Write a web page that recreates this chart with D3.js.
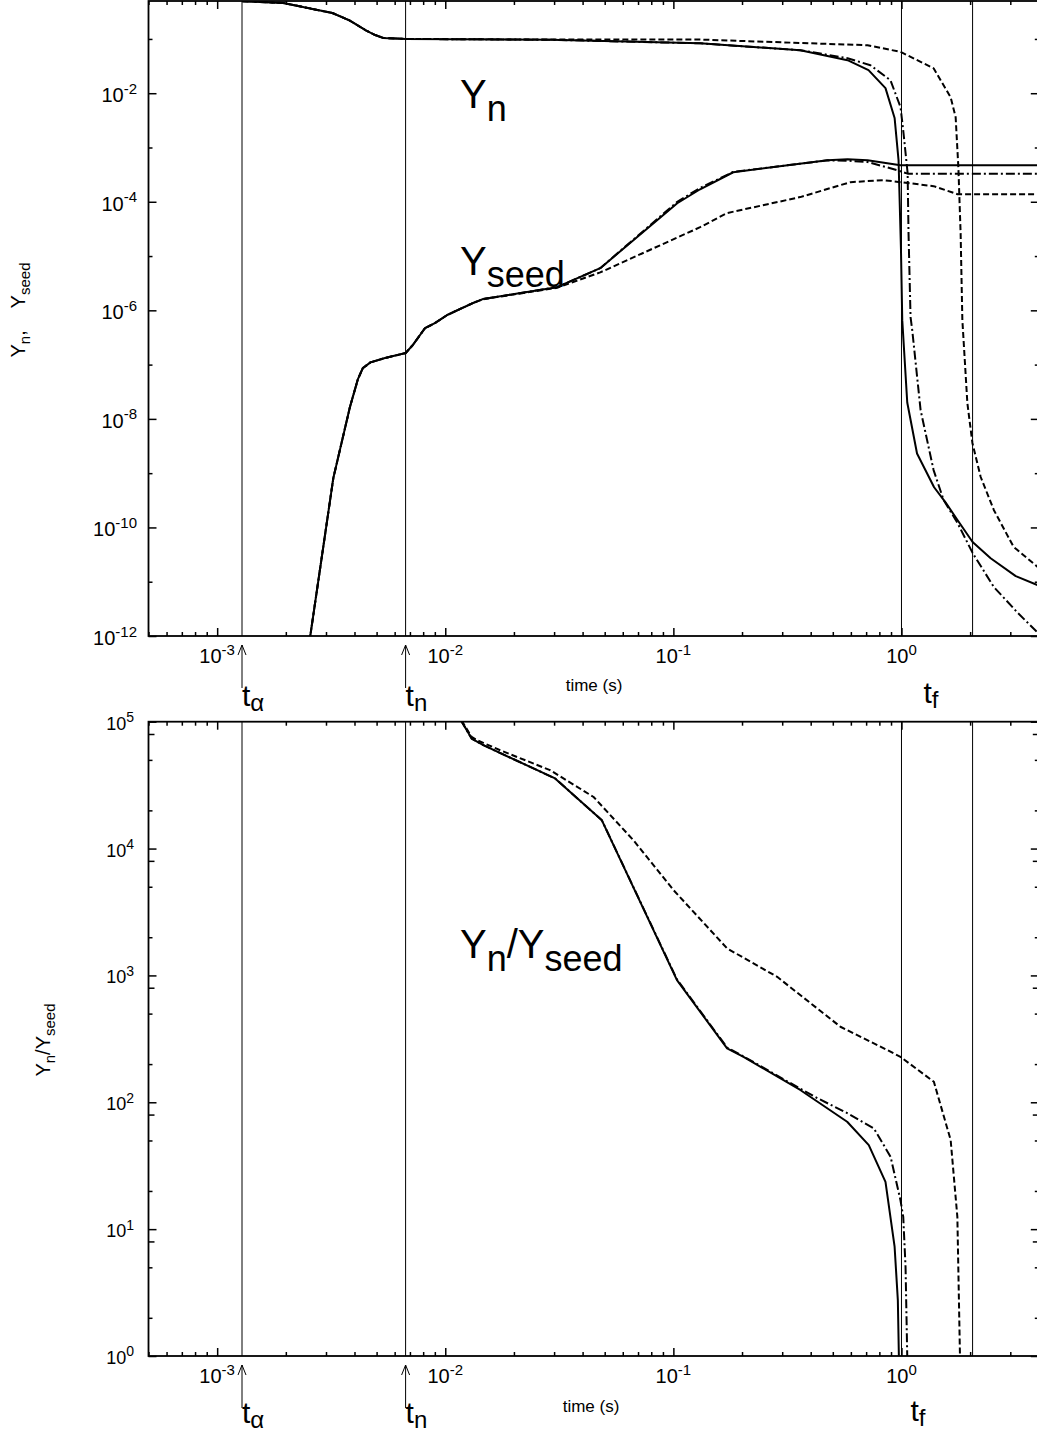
<!DOCTYPE html>
<html>
<head>
<meta charset="utf-8">
<script src="https://cdn.jsdelivr.net/npm/d3@7/dist/d3.min.js"></script>
<style>
body { margin: 0; background: #fff; }
svg { display: block; font-family: "Liberation Sans", Arial, sans-serif; }
</style>
</head>
<body>
<svg width="1037" height="1437"></svg>
<script>
// values: [time (s), value]

// top panel, Y_n
let ynSolid = [
    [1.29e-3, 0.495], [1.95e-3, 0.46], [3.2e-3, 0.30], [3.8e-3, 0.22], [4.46e-3, 0.146],
    [4.93e-3, 0.118], [5.35e-3, 0.104], [6.7e-3, 0.100], [0.0288, 0.0966], [0.131, 0.083],
    [0.36, 0.062], [0.58, 0.0406], [0.717, 0.0266], [0.851, 0.0124], [0.933, 0.0035],
    [0.971, 5.8e-4], [0.995, 1.3e-5], [1.008, 6.6e-7], [1.06, 2.0e-8], [1.17, 2.3e-9],
    [1.39, 5.5e-10], [1.56, 2.9e-10], [1.76, 1.37e-10], [2.05, 5.4e-11], [2.46, 2.7e-11],
    [3.17, 1.27e-11], [4.0, 8.5e-12]
];
let ynDashDot = [
    [1.29e-3, 0.495], [1.95e-3, 0.46], [3.2e-3, 0.30], [3.8e-3, 0.22], [4.46e-3, 0.146],
    [4.93e-3, 0.118], [5.35e-3, 0.104], [6.7e-3, 0.100], [0.0288, 0.0966], [0.131, 0.083],
    [0.36, 0.062], [0.58, 0.0442], [0.731, 0.0328], [0.895, 0.0173], [0.991, 0.0055],
    [1.021, 0.00183], [1.064, 3.4e-4], [1.074, 2.6e-5], [1.096, 7.5e-7], [1.115, 4.3e-7],
    [1.213, 1.45e-8], [1.383, 1.14e-9], [1.53, 3.2e-10], [1.762, 1.2e-10], [2.05, 3.4e-11],
    [2.54, 8.0e-12], [3.24, 2.65e-12], [4.0, 1.1e-12]
];
let ynDashed = [
    [1.29e-3, 0.495], [1.95e-3, 0.46], [3.2e-3, 0.30], [3.8e-3, 0.22], [4.46e-3, 0.146],
    [4.93e-3, 0.118], [5.35e-3, 0.104], [6.7e-3, 0.100], [0.0288, 0.0972], [0.131, 0.0975],
    [0.36, 0.0843], [0.71, 0.0766], [0.99, 0.0577], [1.383, 0.0288], [1.643, 0.0084],
    [1.728, 0.0036], [1.776, 4.3e-4], [1.817, 2.6e-5], [1.849, 6.6e-7], [1.945, 1.95e-8],
    [2.046, 3.6e-9], [2.225, 8.5e-10], [2.54, 2.1e-10], [3.10, 4.4e-11], [4.0, 1.8e-11]
];

// top panel, Y_seed
let yseedSolid = [
    [2.47e-3, 3.6e-13], [3.23e-3, 8.1e-10], [3.82e-3, 1.65e-8], [4.14e-3, 5.4e-8],
    [4.35e-3, 8.6e-8], [4.7e-3, 1.1e-7], [5.44e-3, 1.32e-7], [6.7e-3, 1.63e-7], [7.21e-3, 2.3e-7],
    [8.15e-3, 4.7e-7], [9.0e-3, 5.8e-7], [0.0102, 8.2e-7], [0.0132, 1.36e-6],
    [0.0146, 1.61e-6], [0.0309, 2.67e-6], [0.0478, 5.98e-6], [0.104, 9.4e-5],
    [0.131, 1.7e-4], [0.183, 3.5e-4], [0.474, 5.8e-4], [0.58, 6.1e-4], [0.71, 5.8e-4],
    [0.99, 4.7e-4], [4.0, 4.7e-4]
];
let yseedDashDot = [
    [2.47e-3, 3.6e-13], [3.23e-3, 8.1e-10], [3.82e-3, 1.65e-8], [4.14e-3, 5.4e-8],
    [4.35e-3, 8.6e-8], [4.7e-3, 1.1e-7], [5.44e-3, 1.32e-7], [6.7e-3, 1.63e-7], [7.21e-3, 2.3e-7],
    [8.15e-3, 4.7e-7], [9.0e-3, 5.8e-7], [0.0102, 8.2e-7], [0.0132, 1.36e-6],
    [0.0146, 1.61e-6], [0.0309, 2.67e-6], [0.0478, 5.98e-6], [0.104, 1.0e-4],
    [0.131, 1.8e-4], [0.183, 3.55e-4], [0.474, 5.8e-4], [0.58, 5.7e-4], [0.71, 5.4e-4],
    [0.962, 3.8e-4], [1.064, 3.3e-4], [4.0, 3.3e-4]
];
let yseedDashed = [
    [2.47e-3, 3.6e-13], [3.23e-3, 8.1e-10], [3.82e-3, 1.65e-8], [4.14e-3, 5.4e-8],
    [4.35e-3, 8.6e-8], [4.7e-3, 1.1e-7], [5.44e-3, 1.32e-7], [6.7e-3, 1.63e-7], [7.21e-3, 2.3e-7],
    [8.15e-3, 4.7e-7], [9.0e-3, 5.8e-7], [0.0102, 8.2e-7], [0.0132, 1.36e-6],
    [0.0146, 1.6e-6], [0.0309, 2.6e-6], [0.0478, 5.0e-6], [0.131, 3.4e-5],
    [0.172, 6.2e-5], [0.36, 1.22e-4], [0.598, 2.3e-4], [0.835, 2.5e-4], [0.99, 2.3e-4],
    [1.383, 1.94e-4], [1.762, 1.38e-4], [4.0, 1.38e-4]
];

// bottom panel, Y_n / Y_seed
let ratioSolid = [
    [0.0107, 1.35e5], [0.01305, 7.37e4], [0.01469, 6.53e4], [0.0303, 3.57e4],
    [0.0486, 1.67e4], [0.1037, 918], [0.172, 266], [0.203, 228], [0.36, 125],
    [0.578, 70.2], [0.719, 46], [0.851, 23.6], [0.933, 7.27], [0.964, 2.76],
    [0.974, 1.02], [0.978, 0.5]
];
let ratioDashDot = [
    [0.0107, 1.35e5], [0.01305, 7.37e4], [0.01469, 6.53e4], [0.0303, 3.57e4],
    [0.0486, 1.67e4], [0.1037, 930], [0.172, 270], [0.203, 230], [0.36, 128], [0.427, 108],
    [0.578, 82.2], [0.757, 62.3], [0.896, 37.2], [0.99, 16.9], [1.018, 12.5],
    [1.042, 5.05], [1.06, 1.0], [1.064, 0.5]
];
let ratioDashed = [
    [0.0107, 1.35e5], [0.01305, 7.6e4], [0.01379, 7.15e4], [0.0174, 5.96e4],
    [0.0288, 4.15e4], [0.0447, 2.55e4], [0.0669, 1.16e4], [0.1002, 4700],
    [0.172, 1633], [0.285, 975], [0.54, 394], [0.866, 258], [0.99, 228],
    [1.387, 145], [1.643, 50.4], [1.758, 12.5], [1.805, 1.0], [1.81, 0.5]
];

// marked times: t_alpha, t_n, t_f and the end line
let refTimes = [1.285e-3, 6.7e-3, 1.0, 2.05];

// ticks
let xMajor = [1e-3, 1e-2, 1e-1, 1];
let xMajorExp = ["-3", "-2", "-1", "0"];
let topMajor = [1e-12, 1e-10, 1e-8, 1e-6, 1e-4, 1e-2];
let topMajorExp = ["-12", "-10", "-8", "-6", "-4", "-2"];
let topMinor = [1e-11, 1e-9, 1e-7, 1e-5, 1e-3, 1e-1];
let botMajor = [1, 10, 100, 1e3, 1e4, 1e5];
let botMajorExp = ["0", "1", "2", "3", "4", "5"];

let xMinor = [];
[1e-4, 1e-3, 1e-2, 1e-1, 1].forEach(d => {
    for (let k = 2; k <= 9; k++) if (d * k >= 5e-4 && d * k <= 4) xMinor.push(d * k);
});
let botMinor = [], botMid = [];
[1, 10, 100, 1e3, 1e4].forEach(d => {
    botMinor.push(2 * d, 5 * d);
    botMid.push(8 * d);
});

let svg = d3.select("svg");
let left = 148.5, right = 1038.8;

let x = d3.scaleLog().domain([5e-4, 4]).range([left, right]);

let panels = [
    {
        id: "top",
        y: d3.scaleLog().domain([1e-12, 0.5]).range([636, 1]),
        top: 1, bottom: 636,
        major: topMajor, majorExp: topMajorExp, minor: topMinor, mid: [],
        labelFont: 20, supFont: 15, labelRight: 137, labelDy: 9,
        series: [
            [ynSolid, "solid"], [ynDashDot, "dashdot"], [ynDashed, "dashed"],
            [yseedSolid, "solid"], [yseedDashDot, "dashdot"], [yseedDashed, "dashed"]
        ]
    },
    {
        id: "bot",
        y: d3.scaleLog().domain([1, 1e5]).range([1356, 721.7]),
        top: 721.7, bottom: 1356,
        major: botMajor, majorExp: botMajorExp, minor: botMinor, mid: botMid,
        labelFont: 18, supFont: 14, labelRight: 134, labelDy: 8,
        series: [
            [ratioSolid, "solid"], [ratioDashDot, "dashdot"], [ratioDashed, "dashed"]
        ]
    }
];

let dashes = { solid: null, dashed: "6,3", dashdot: "9,3,2,3" };

function tickAxis(g, axis, values, size) {
    g.call(axis.tickValues(values).tickSizeInner(size).tickSizeOuter(0).tickFormat(""))
        .call(s => s.select(".domain").remove())
        .call(s => s.selectAll("line").attr("stroke", "#000").attr("stroke-width", 1.5));
}

function powLabel(g, px, py, exp, anchor, size, supSize) {
    let t = g.append("text")
        .attr("x", px).attr("y", py)
        .attr("text-anchor", anchor)
        .attr("font-size", size);
    t.append("tspan").text("10");
    t.append("tspan").attr("dy", -size * 0.42).attr("font-size", supSize).text(exp);
}

panels.forEach(p => {
    let y = p.y;
    let g = svg.append("g");

    svg.append("clipPath").attr("id", "clip-" + p.id)
        .append("rect")
        .attr("x", left).attr("y", p.top)
        .attr("width", right - left).attr("height", p.bottom - p.top);

    // vertical reference lines
    g.selectAll(".ref")
        .data(refTimes)
        .enter().append("line")
        .attr("x1", d => x(d)).attr("x2", d => x(d))
        .attr("y1", p.top).attr("y2", p.bottom)
        .attr("stroke", "#000").attr("stroke-width", 1);

    // curves
    let line = d3.line().x(d => x(d[0])).y(d => y(d[1]));
    g.append("g").attr("clip-path", "url(#clip-" + p.id + ")")
        .selectAll("path")
        .data(p.series)
        .enter().append("path")
        .attr("d", d => line(d[0]))
        .attr("fill", "none")
        .attr("stroke", "#000")
        .attr("stroke-width", 2)
        .attr("stroke-linejoin", "round")
        .attr("stroke-dasharray", d => dashes[d[1]]);

    // frame
    g.append("rect")
        .attr("x", left).attr("y", p.top)
        .attr("width", right - left).attr("height", p.bottom - p.top)
        .attr("fill", "none").attr("stroke", "#000").attr("stroke-width", 1.8);

    // ticks, all pointing inwards
    let gb = g.append("g").attr("transform", "translate(0," + p.bottom + ")");
    tickAxis(gb.append("g"), d3.axisBottom(x), xMinor, -4);
    tickAxis(gb.append("g"), d3.axisBottom(x), xMajor, -8);
    let gt = g.append("g").attr("transform", "translate(0," + p.top + ")");
    tickAxis(gt.append("g"), d3.axisTop(x), xMinor, -4);
    tickAxis(gt.append("g"), d3.axisTop(x), xMajor, -8);
    let gl = g.append("g").attr("transform", "translate(" + left + ",0)");
    tickAxis(gl.append("g"), d3.axisLeft(y), p.minor, -4);
    tickAxis(gl.append("g"), d3.axisLeft(y), p.mid, -6);
    tickAxis(gl.append("g"), d3.axisLeft(y), p.major, -8);
    let gr = g.append("g").attr("transform", "translate(" + right + ",0)");
    tickAxis(gr.append("g"), d3.axisRight(y), p.minor, -4);
    tickAxis(gr.append("g"), d3.axisRight(y), p.mid, -6);
    tickAxis(gr.append("g"), d3.axisRight(y), p.major, -8);

    // tick labels
    xMajor.forEach((v, i) => powLabel(g, x(v), p.bottom + 27, xMajorExp[i], "middle", 20, 15));
    p.major.forEach((v, i) => powLabel(g, p.labelRight, y(v) + p.labelDy, p.majorExp[i], "end", p.labelFont, p.supFont));

    // time arrows for t_alpha and t_n
    refTimes.slice(0, 2).forEach(t => {
        let ax = x(t), tip = p.bottom + 9;
        g.append("path")
            .attr("d", "M" + ax + "," + tip + "V" + (tip + 43) +
                "M" + (ax - 4) + "," + (tip + 10) + "L" + ax + "," + tip + "L" + (ax + 4) + "," + (tip + 10))
            .attr("fill", "none").attr("stroke", "#000").attr("stroke-width", 1);
    });
});

function tLabel(px, py, sub) {
    let t = svg.append("text").attr("x", px).attr("y", py).attr("font-size", 30);
    t.append("tspan").text("t");
    t.append("tspan").attr("dy", 5).attr("font-size", 24).text(sub);
}
tLabel(x(refTimes[0]), 706, "α");
tLabel(x(refTimes[1]), 706, "n");
tLabel(x(refTimes[2]) + 22, 703, "f");
tLabel(x(refTimes[0]), 1423, "α");
tLabel(x(refTimes[1]), 1423, "n");
tLabel(x(refTimes[2]) + 9, 1421, "f");

svg.append("text").attr("x", 594).attr("y", 691).attr("text-anchor", "middle")
    .attr("font-size", 17).text("time (s)");
svg.append("text").attr("x", 591).attr("y", 1412).attr("text-anchor", "middle")
    .attr("font-size", 17).text("time (s)");

// big in-plot labels
function bigLabel(px, py, parts) {
    let t = svg.append("text").attr("x", px).attr("y", py).attr("font-size", 40);
    parts.forEach(d => {
        t.append("tspan").attr("dy", d[1]).attr("font-size", d[2] || 40).text(d[0]);
    });
}
bigLabel(460, 108, [["Y", 0], ["n", 13, 36]]);
bigLabel(460, 275, [["Y", 0], ["seed", 12, 36]]);
bigLabel(460, 958, [["Y", 0], ["n", 13, 36], ["/", -13], ["Y", 0], ["seed", 13, 36]]);

// rotated axis titles
function yTitle(px, py, parts) {
    let t = svg.append("text")
        .attr("transform", "translate(" + px + "," + py + ") rotate(-90)")
        .attr("text-anchor", "middle")
        .attr("font-size", 20)
        .attr("xml:space", "preserve");
    parts.forEach(d => {
        t.append("tspan").attr("dy", d[1]).attr("font-size", d[2] || 20).text(d[0]);
    });
}
yTitle(25, 310, [["Y", 0], ["n", 5, 15], [",    ", -5], ["Y", 0], ["seed", 5, 15]]);
yTitle(50, 1040, [["Y", 0], ["n", 5, 15], ["/", -5], ["Y", 0], ["seed", 5, 15]]);
</script>
</body>
</html>
